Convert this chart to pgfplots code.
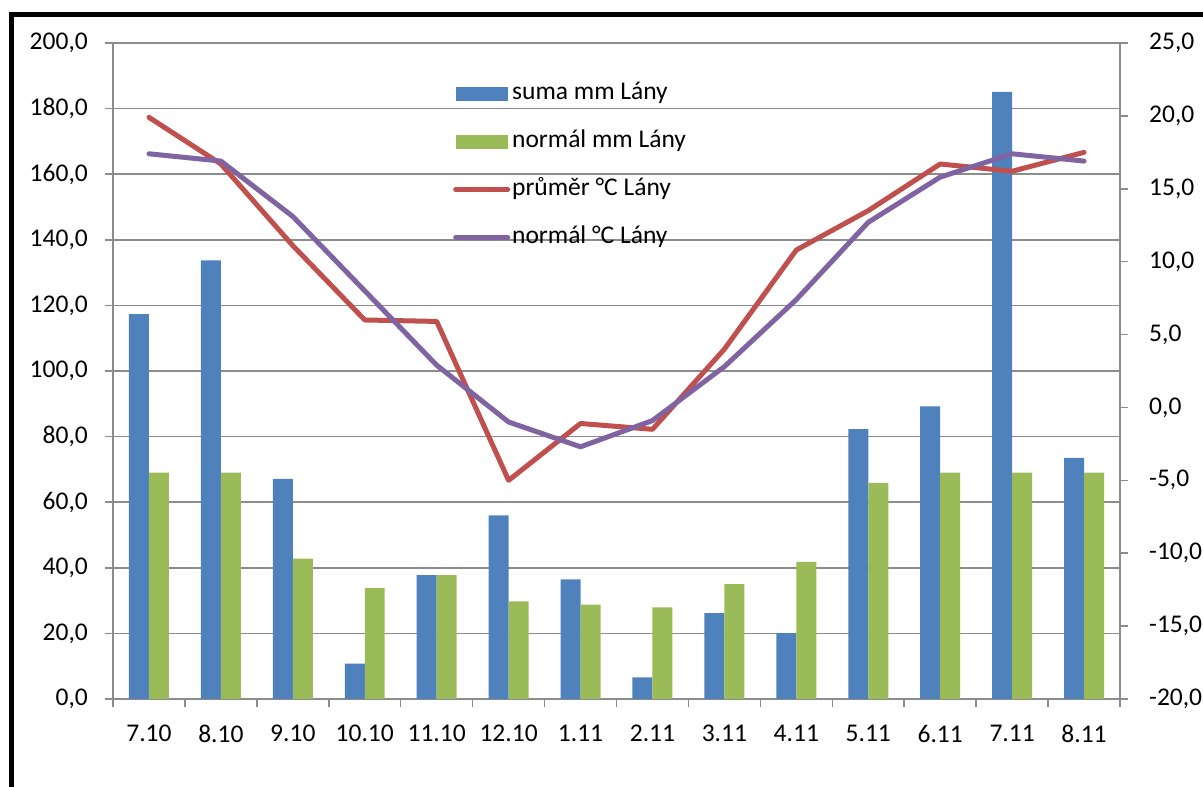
\documentclass[border=0pt]{standalone}
\usepackage{fontspec}
\setmainfont{Carlito}
\usepackage{pgfplots}
\usepackage{pgfplotstable}
\pgfplotsset{compat=1.18}

\definecolor{cblue}{HTML}{4F81BD}
\definecolor{cgreen}{HTML}{9BBB59}
\definecolor{cred}{HTML}{C0504D}
\definecolor{cpurple}{HTML}{8064A2}
\definecolor{cgray}{HTML}{8C8C8C}

% x: 0 = 7.10 ... 13 = 8.11
\pgfplotstableread{
x  suma   normmm  prumer  normt
0  117.3  69.0    19.9    17.4
1  133.7  69.0    16.7    16.9
2  67.1   42.8    11.1    13.1
3  10.8   33.8    6.0     8.0
4  37.8   37.8    5.9     2.9
5  56.0   29.8    -5.0    -1.0
6  36.5   28.8    -1.1    -2.7
7  6.6    27.9    -1.5    -0.9
8  26.2   35.0    4.0     2.8
9  20.1   41.8    10.8    7.4
10 82.3   65.9    13.5    12.7
11 89.2   69.0    16.7    15.8
12 185.1  69.0    16.2    17.4
13 73.5   69.0    17.5    16.9
}\data

\pgfplotsset{
  base/.style={
    at={(113pt,88pt)}, anchor=south west,
    scale only axis, width=1007pt, height=656pt,
    xmin=-0.5, xmax=13.5,
    font=\fontsize{25.5}{30}\selectfont,
    axis line style={cgray, line width=1.5pt},
    tick style={cgray, line width=1.5pt},
    major tick length=8pt, tick align=outside,
    /pgf/number format/fixed,
    /pgf/number format/fixed zerofill,
    /pgf/number format/precision=1,
    /pgf/number format/use comma,
    /pgf/number format/assume math mode=true,
  },
  barleg/.style={legend image code/.code={\fill[##1, draw=none] (0pt,-7pt) rectangle (52pt,7pt);}},
  linleg/.style={legend image code/.code={\draw[##1, line cap=round] (0pt,0pt) -- (52pt,0pt);}},
}

\begin{document}
\begin{tikzpicture}[x=1pt, y=1pt]
\useasboundingbox (0,0) rectangle (1203,787);
\draw[line width=5pt] (11,-10) -- (11,772) -- (1220,772);

\begin{axis}[base,
    ymin=0, ymax=200, ytick={0,20,...,200},
    axis x line*=bottom, axis y line*=left,
    ymajorgrids, grid style={cgray, line width=1.5pt},
    xtick={0,...,13},
    xticklabels={7.10,8.10,9.10,10.10,11.10,12.10,1.11,2.11,3.11,4.11,5.11,6.11,7.11,8.11},
    xtick style={draw=none},
    extra x ticks={-0.5,0.5,...,13.5},
    extra x tick labels={},
    extra x tick style={xtick style={draw=cgray}, grid=none},
    xticklabel style={anchor=north, inner sep=0pt, yshift=-18pt},
    yticklabel style={anchor=east, inner sep=0pt, xshift=-17pt},
  ]
  \addplot[ybar, bar width=0.278, bar shift=-0.139, fill=cblue, draw=none]
    table[x=x, y=suma] {\data};
  \addplot[ybar, bar width=0.278, bar shift=0.139, fill=cgreen, draw=none]
    table[x=x, y=normmm] {\data};
\end{axis}

\begin{axis}[base,
    ymin=-20, ymax=25, ytick={-20,-15,...,25},
    axis y line*=right, axis x line=none,
    yticklabel style={anchor=west, inner sep=0pt, xshift=21pt},
    legend style={at={(0.3376,0.94)}, anchor=north west, draw=none, fill=none,
      inner sep=0pt, row sep=26pt, column sep=2pt,
      nodes={inner sep=0pt, text height=17pt, text depth=5pt, anchor=west}},
    legend cell align=left,
  ]
  \addlegendimage{barleg, fill=cblue}
  \addlegendentry{suma mm Lány}
  \addlegendimage{barleg, fill=cgreen}
  \addlegendentry{normál mm Lány}
  \addplot[linleg, color=cred, line width=5pt, line join=round, line cap=round, mark=none]
    table[x=x, y=prumer] {\data};
  \addlegendentry{průměr °C Lány}
  \addplot[linleg, color=cpurple, line width=5pt, line join=round, line cap=round, mark=none]
    table[x=x, y=normt] {\data};
  \addlegendentry{normál °C Lány}
\end{axis}
\end{tikzpicture}
\end{document}
